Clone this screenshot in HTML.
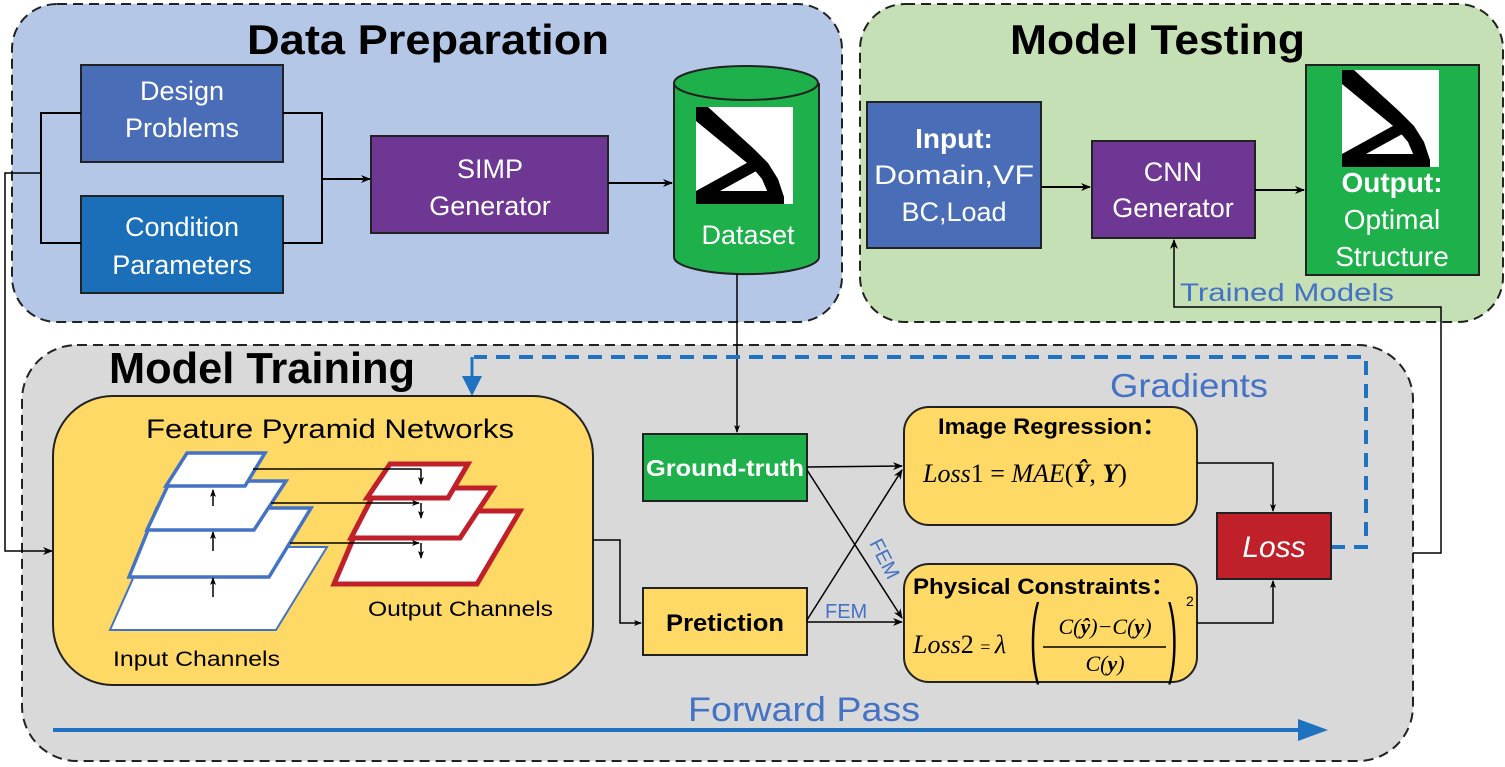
<!DOCTYPE html>
<html><head><meta charset="utf-8"><style>
html,body{margin:0;padding:0;background:#fff;}
svg{display:block;}
text{font-family:"Liberation Sans",sans-serif;}
.serif{font-family:"Liberation Serif",serif;font-style:italic;}
</style></head><body>
<svg width="1505" height="767" viewBox="0 0 1505 767" xmlns="http://www.w3.org/2000/svg">
<defs>
<marker id="ah" markerWidth="10" markerHeight="8" refX="9" refY="4" orient="auto" markerUnits="userSpaceOnUse"><path d="M0,0 L10,4 L0,8 L3,4 Z" fill="#000"/></marker>
<marker id="ahs" markerWidth="8" markerHeight="6" refX="7" refY="3" orient="auto" markerUnits="userSpaceOnUse"><path d="M0,0 L8,3 L0,6 L2,3 Z" fill="#000"/></marker>
<g id="topo">
<rect x="0" y="0" width="97" height="97" fill="#fff"/>
<path d="M0,0 L12,0 L58,42 L72,56 L82,72 L88,90 L88,97 L74,97 L72,86 L66,72 L56,60 L0,14 Z" fill="#000"/>
<path d="M0,84 L58,52 L64,62 L24,84 L76,84 L76,97 L0,97 Z" fill="#000"/>
</g>
</defs>

<rect x="12" y="4" width="830" height="318" rx="45" fill="#b4c7e7" stroke="#222" stroke-width="2" stroke-dasharray="10,6"/>
<text x="247" y="54" font-size="42" font-weight="bold" fill="#000" textLength="362" lengthAdjust="spacingAndGlyphs">Data  Preparation</text>
<rect x="81" y="65" width="202" height="97" fill="#4a6db8" stroke="#222" stroke-width="2"/>
<text x="182" y="100" font-size="27" fill="#fff" text-anchor="middle">Design</text>
<text x="182" y="137" font-size="27" fill="#fff" text-anchor="middle">Problems</text>
<rect x="81" y="196" width="202" height="97" fill="#1a6fb8" stroke="#222" stroke-width="2"/>
<text x="182" y="236" font-size="27" fill="#fff" text-anchor="middle">Condition</text>
<text x="182" y="274" font-size="27" fill="#fff" text-anchor="middle">Parameters</text>
<path d="M81,113 H41 V243 H81" fill="none" stroke="#000" stroke-width="2"/>
<path d="M283,113 H322 V243 H283" fill="none" stroke="#000" stroke-width="2"/>
<line x1="322" y1="179" x2="370" y2="179" stroke="#000" stroke-width="2" marker-end="url(#ah)"/>
<rect x="371" y="136" width="237" height="97" fill="#6f3794" stroke="#222" stroke-width="2"/>
<text x="490" y="178" font-size="27" fill="#fff" text-anchor="middle">SIMP</text>
<text x="490" y="215" font-size="27" fill="#fff" text-anchor="middle">Generator</text>
<line x1="608" y1="183" x2="672" y2="183" stroke="#000" stroke-width="2" marker-end="url(#ah)"/>
<path d="M674,83 V257 A72,17 0 0 0 819,257 V83" fill="#1db04b" stroke="#222" stroke-width="2"/>
<ellipse cx="746" cy="83" rx="72" ry="17" fill="#1db04b" stroke="#222" stroke-width="2"/>
<use href="#topo" x="696" y="107"/>
<text x="748" y="244" font-size="27" fill="#fff" text-anchor="middle">Dataset</text>

<rect x="860" y="4" width="643" height="318" rx="45" fill="#c5e0b4" stroke="#222" stroke-width="2" stroke-dasharray="10,6"/>
<text x="1010" y="54" font-size="42" font-weight="bold" fill="#000" textLength="295" lengthAdjust="spacingAndGlyphs">Model Testing</text>
<rect x="867" y="102" width="174" height="146" fill="#4a6db8" stroke="#222" stroke-width="2"/>
<text x="954" y="148" font-size="28" font-weight="bold" fill="#fff" text-anchor="middle">Input:</text>
<text x="954" y="184" font-size="27" fill="#fff" text-anchor="middle" textLength="160" lengthAdjust="spacingAndGlyphs">Domain,VF</text>
<text x="954" y="221" font-size="27" fill="#fff" text-anchor="middle">BC,Load</text>
<line x1="1041" y1="187" x2="1090" y2="187" stroke="#000" stroke-width="2" marker-end="url(#ah)"/>
<rect x="1092" y="141" width="163" height="97" fill="#6f3794" stroke="#222" stroke-width="2"/>
<text x="1173" y="181" font-size="27" fill="#fff" text-anchor="middle">CNN</text>
<text x="1173" y="217" font-size="27" fill="#fff" text-anchor="middle">Generator</text>
<line x1="1255" y1="190" x2="1304" y2="190" stroke="#000" stroke-width="2" marker-end="url(#ah)"/>
<rect x="1306" y="65" width="173" height="210" fill="#1db04b" stroke="#222" stroke-width="2"/>
<use href="#topo" x="1342" y="70"/>
<text x="1392" y="192" font-size="28" font-weight="bold" fill="#fff" text-anchor="middle">Output:</text>
<text x="1392" y="229" font-size="28" fill="#fff" text-anchor="middle">Optimal</text>
<text x="1392" y="266" font-size="28" fill="#fff" text-anchor="middle">Structure</text>
<text x="1180" y="301" font-size="25" fill="#4472c4" textLength="214" lengthAdjust="spacingAndGlyphs">Trained Models</text>

<rect x="22" y="345" width="1391" height="416" rx="55" fill="#d9d9d9" stroke="#222" stroke-width="2" stroke-dasharray="10,6"/>
<path d="M1413,553 H1441 V307 H1174 V240" fill="none" stroke="#000" stroke-width="1.5" marker-end="url(#ah)"/>
<line x1="737" y1="274" x2="737" y2="432" stroke="#000" stroke-width="1.5" marker-end="url(#ahs)"/>
<path d="M41,173 H5 V551 H52" fill="none" stroke="#000" stroke-width="1.5" marker-end="url(#ah)"/>
<text x="109" y="383" font-size="44" font-weight="bold" fill="#000" textLength="306" lengthAdjust="spacingAndGlyphs">Model Training</text>
<path d="M1331,547 H1366 V357 H474" fill="none" stroke="#1f72c0" stroke-width="4" stroke-dasharray="14,9"/>
<line x1="472" y1="357" x2="472" y2="378" stroke="#1f72c0" stroke-width="3"/>
<path d="M462,376 L482,376 L472,396 Z" fill="#1f72c0"/>
<text x="1110" y="397" font-size="33" fill="#4472c4" textLength="158" lengthAdjust="spacingAndGlyphs">Gradients</text>

<rect x="53" y="396" width="540" height="289" rx="60" fill="#ffd966" stroke="#222" stroke-width="2"/>
<text x="330" y="438" font-size="27" fill="#000" text-anchor="middle" textLength="368" lengthAdjust="spacingAndGlyphs">Feature Pyramid Networks</text>
<polygon points="110,630 147,547 327,547 276,630" fill="#fff" stroke="#4472c4" stroke-width="2"/>
<polygon points="129,577 157,508 311,508 269,577" fill="#fff" stroke="#4472c4" stroke-width="3.5"/>
<polygon points="147,530 170,481 286,481 254,530" fill="#fff" stroke="#4472c4" stroke-width="3.5"/>
<polygon points="166,486 187,453 265,453 245,486" fill="#fff" stroke="#4472c4" stroke-width="3.5"/>
<polygon points="334,584 365,511 520,511 477,584" fill="#fff" stroke="#c0202a" stroke-width="5"/>
<polygon points="351,538 377,488 493,488 460,538" fill="#fff" stroke="#c0202a" stroke-width="5"/>
<polygon points="367,498 390,464 468,464 448,498" fill="#fff" stroke="#c0202a" stroke-width="5"/>
<g stroke="#000" stroke-width="1.5" fill="none">
<line x1="253" y1="469" x2="421" y2="469"/><line x1="421" y1="469" x2="421" y2="484" marker-end="url(#ahs)"/>
<line x1="271" y1="503" x2="419" y2="503" marker-end="url(#ahs)"/><line x1="421" y1="503" x2="421" y2="518" marker-end="url(#ahs)"/>
<line x1="290" y1="543" x2="419" y2="543" marker-end="url(#ahs)"/><line x1="421" y1="543" x2="421" y2="558" marker-end="url(#ahs)"/>
<line x1="213" y1="506" x2="213" y2="490" marker-end="url(#ahs)"/>
<line x1="213" y1="551" x2="213" y2="532" marker-end="url(#ahs)"/>
<line x1="213" y1="597" x2="213" y2="578" marker-end="url(#ahs)"/>
</g>
<text x="368" y="616" font-size="21" fill="#000" textLength="185" lengthAdjust="spacingAndGlyphs">Output Channels</text>
<text x="113" y="666" font-size="21" fill="#000" textLength="167" lengthAdjust="spacingAndGlyphs">Input Channels</text>
<path d="M593,540 H620 V623 H641" fill="none" stroke="#000" stroke-width="1.5" marker-end="url(#ahs)"/>

<rect x="643" y="434" width="164" height="67" fill="#1db04b" stroke="#222" stroke-width="2"/>
<text x="725" y="476" font-size="23" font-weight="bold" fill="#fff" text-anchor="middle" textLength="158" lengthAdjust="spacingAndGlyphs">Ground-truth</text>
<rect x="643" y="588" width="164" height="67" fill="#ffd966" stroke="#222" stroke-width="2"/>
<text x="725" y="631" font-size="24" font-weight="bold" fill="#000" text-anchor="middle" textLength="118" lengthAdjust="spacingAndGlyphs">Pretiction</text>
<g stroke="#000" stroke-width="1.5" fill="none">
<line x1="807" y1="467" x2="902" y2="466" marker-end="url(#ah)"/>
<line x1="807" y1="470" x2="902" y2="618" marker-end="url(#ah)"/>
<line x1="807" y1="620" x2="902" y2="470" marker-end="url(#ah)"/>
<line x1="807" y1="622" x2="902" y2="622" marker-end="url(#ah)"/>
</g>
<text x="0" y="0" font-size="20" fill="#4472c4" transform="translate(869,543) rotate(63)">FEM</text>
<text x="825" y="618" font-size="20" fill="#4472c4">FEM</text>

<rect x="904" y="407" width="293" height="118" rx="25" fill="#ffd966" stroke="#222" stroke-width="2"/>
<text x="1052" y="434" font-size="22" font-weight="bold" fill="#000" text-anchor="middle" textLength="228" lengthAdjust="spacingAndGlyphs">Image Regression：</text>
<text x="923" y="482" font-size="26" class="serif" fill="#000">Loss<tspan font-style="normal">1 = </tspan>MAE<tspan font-style="normal">(</tspan><tspan font-weight="bold">Ŷ</tspan><tspan font-style="normal">, </tspan><tspan font-weight="bold">Y</tspan><tspan font-style="normal">)</tspan></text>
<rect x="904" y="564" width="293" height="118" rx="25" fill="#ffd966" stroke="#222" stroke-width="2"/>
<text x="913" y="594" font-size="22" font-weight="bold" fill="#000" textLength="262" lengthAdjust="spacingAndGlyphs">Physical Constraints：</text>
<text x="913" y="653" font-size="26" class="serif" fill="#000">Loss<tspan font-style="normal">2 </tspan><tspan font-style="normal" font-size="18">= </tspan>λ</text>
<text font-size="88" font-family="Liberation Serif" fill="#000" transform="translate(1030,666) scale(0.32,1)">(</text>
<text font-size="88" font-family="Liberation Serif" fill="#000" transform="translate(1168,666) scale(0.32,1)">)</text>
<text x="1186" y="606" font-size="14" font-family="Liberation Serif" fill="#000">2</text>
<text x="1105" y="634" font-size="22" class="serif" fill="#000" text-anchor="middle">C(<tspan font-weight="bold">ŷ</tspan>)−C(<tspan font-weight="bold">y</tspan>)</text>
<line x1="1043" y1="647" x2="1166" y2="647" stroke="#000" stroke-width="1.5"/>
<text x="1105" y="671" font-size="22" class="serif" fill="#000" text-anchor="middle">C(<tspan font-weight="bold">y</tspan>)</text>
<g stroke="#000" stroke-width="1.5" fill="none">
<path d="M1197,463 H1273 V511" marker-end="url(#ahs)"/>
<path d="M1197,623 H1273 V581" marker-end="url(#ahs)"/>
</g>
<rect x="1217" y="513" width="114" height="66" fill="#c0202a" stroke="#222" stroke-width="2"/>
<text x="1274" y="557" font-size="30" font-family="Liberation Serif" font-style="italic" fill="#fff" text-anchor="middle">Loss</text>

<line x1="53" y1="730" x2="1300" y2="730" stroke="#1f72c0" stroke-width="4"/>
<path d="M1298,719 L1328,730 L1298,741 Z" fill="#1f72c0"/>
<text x="688" y="721" font-size="34" fill="#4472c4" textLength="232" lengthAdjust="spacingAndGlyphs">Forward Pass</text>
</svg>
</body></html>
